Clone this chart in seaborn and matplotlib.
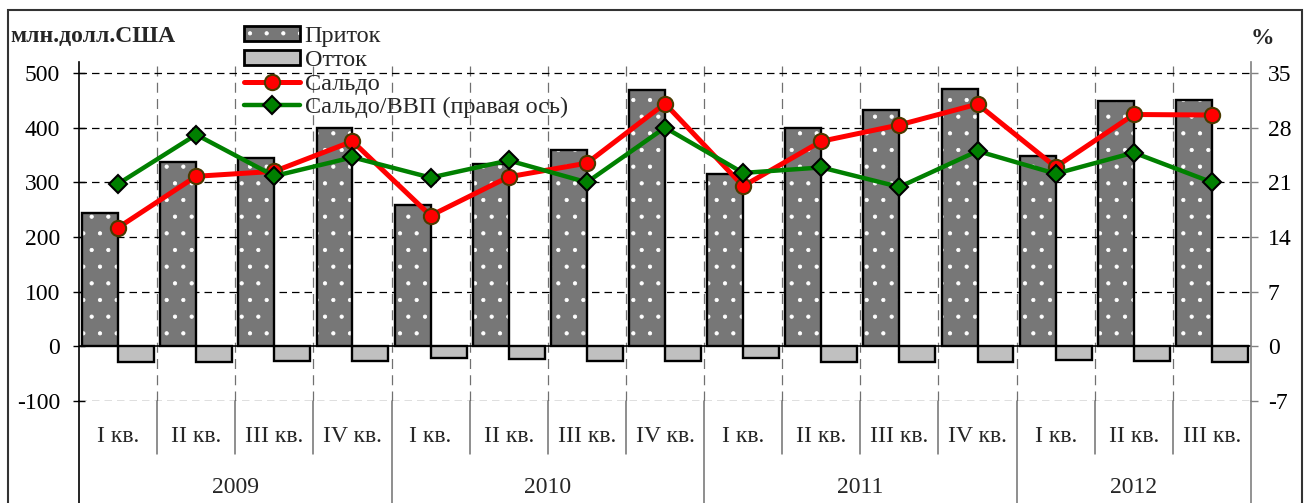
import numpy as np
import pandas as pd
import seaborn as sns
import matplotlib.pyplot as plt
import matplotlib.transforms as mtransforms
from matplotlib.patches import Rectangle
from matplotlib.lines import Line2D
from matplotlib.legend_handler import HandlerTuple

# data
quarters = ['I кв.', 'II кв.', 'III кв.', 'IV кв.'] * 3 + ['I кв.', 'II кв.', 'III кв.']
years = ['2009', '2010', '2011', '2012']
year_of = ['2009'] * 4 + ['2010'] * 4 + ['2011'] * 4 + ['2012'] * 3
inflow = [244, 337, 344, 400, 258, 333, 359, 469, 315, 400, 432, 470, 348, 449, 450]
outflow = [-29, -28, -26, -26, -21, -23, -26, -26, -21, -28, -29, -29, -25, -26, -29]
saldo = [217, 311, 320, 375, 239, 310, 335, 444, 293, 375, 405, 443, 328, 424, 423]
saldo_gdp = [20.8, 27.1, 21.8, 24.2, 21.6, 23.8, 21.0, 28.0, 22.2, 22.9, 20.4, 25.0, 22.1, 24.8, 21.0]
left_ticks = [-100, 0, 100, 200, 300, 400, 500]
right_ticks = [-7, 0, 7, 14, 21, 28, 35]

sns.set_theme(style='white')
plt.rcParams['font.family'] = ['Liberation Serif', 'DejaVu Serif']
plt.rcParams['axes.unicode_minus'] = False
plt.rcParams['hatch.linewidth'] = 0.6

n = len(quarters)
idx = np.arange(n)
bars = pd.DataFrame({'n': np.concatenate([idx, idx]),
                     'v': inflow + outflow,
                     's': ['Приток'] * n + ['Отток'] * n})

W, H = 1305, 503
fig = plt.figure(figsize=(W / 100, H / 100), dpi=100)
ax = fig.add_axes([79 / W, 1 - 401 / H, (1251 - 79) / W, (401 - 62) / H])

sns.barplot(data=bars, x='n', y='v', hue='s', hue_order=['Приток', 'Отток'],
            palette=['#777777', '#c0c0c0'], saturation=1, width=0.92, gap=0,
            edgecolor='black', linewidth=1.7, legend=False, ax=ax, zorder=3)

# dotted texture on inflow bars: white hatch, then a black outline on top
for p in list(ax.patches):
    if p.get_height() > 0:
        p.set_hatch('.')
        p.set_edgecolor('white')
        p.set_linewidth(0)
        ax.add_patch(Rectangle(p.get_xy(), p.get_width(), p.get_height(), fill=False,
                               ec='black', lw=1.7, zorder=3.1))

sns.lineplot(x=idx, y=saldo, ax=ax, color='#ff0000', lw=3.6, marker='o', markersize=11,
             markerfacecolor='#ff0000', markeredgecolor='#4a3a00', markeredgewidth=1.5, zorder=5)

ax2 = ax.twinx()
sns.lineplot(x=idx, y=saldo_gdp, ax=ax2, color='#008000', lw=3.2, marker='D', markersize=9.5,
             markerfacecolor='#008000', markeredgecolor='black', markeredgewidth=1.5, zorder=5)

ax.set_xlim(-0.5, n - 0.5)
ax.set_ylim(-100, 520)
ax2.set_ylim(-7, 36.4)
ax.set_xlabel('')
ax.set_ylabel('')
ax2.set_ylabel('')

ax.set_yticks(left_ticks)
ax2.set_yticks(right_ticks)
ax.set_xticks([])
ax.set_xticks(idx[:-1] + 0.5, minor=True)
ax.tick_params(axis='x', which='both', length=0, labelbottom=False)
ax.tick_params(axis='y', direction='inout', length=9, width=1, labelsize=17, pad=9, colors='black')
ax2.tick_params(axis='y', direction='out', length=5, width=1, labelsize=17, pad=7,
                color='#808080', labelcolor='black')

ax.grid(False)
ax2.grid(False)
for y in left_ticks:
    if y != 0:
        ax.axhline(y, color='black', lw=0.9, ls=(0, (6, 4)), zorder=1)
ax.axhline(0, color='black', lw=1.2, zorder=4)
ax.grid(axis='x', which='minor', color='#707070', lw=0.9, ls=(0, (8, 5)))

for s in ['top', 'bottom', 'right']:
    ax.spines[s].set_visible(False)
for s in ['top', 'bottom', 'left']:
    ax2.spines[s].set_visible(False)
ax.spines['left'].set_color('black')
ax.spines['left'].set_linewidth(1.2)
ax2.spines['right'].set_color('#808080')
ax2.spines['right'].set_linewidth(1.2)

# category labels below the plot
tr = mtransforms.blended_transform_factory(ax.transData, ax.transAxes)
q_y, y_y = -0.106, -0.254
q_end, y_end = -0.155, -0.32
for i in range(n):
    ax.text(i, q_y, quarters[i], transform=tr, ha='center', va='center', fontsize=17)
for yr in years:
    pos = [i for i in range(n) if year_of[i] == yr]
    ax.text(np.mean(pos), y_y, yr, transform=tr, ha='center', va='center', fontsize=17)
for i in range(n - 1):
    end = y_end if year_of[i] != year_of[i + 1] else q_end
    ax.add_line(Line2D([i + 0.5, i + 0.5], [0, end], transform=tr, color='#707070',
                       lw=1.1, clip_on=False))
ax.add_line(Line2D([-0.5, -0.5], [0, y_end], transform=tr, color='black', lw=1.2, clip_on=False))
ax.add_line(Line2D([n - 0.5, n - 0.5], [0, y_end], transform=tr, color='#808080', lw=1.2, clip_on=False))

fig.text(10 / W, 1 - 37 / H, 'млн.долл.США', fontsize=17, fontweight='bold', va='center', ha='left')
fig.text(1262 / W, 1 - 39 / H, '%', fontsize=17, fontweight='bold', va='center', ha='center')

# legend
h_in = (Rectangle((0, 0), 1, 1, fc='#777777', ec='white', lw=0, hatch='.'),
        Rectangle((0, 0), 1, 1, fill=False, ec='black', lw=2))
h_out = Rectangle((0, 0), 1, 1, fc='#c0c0c0', ec='black', lw=2)
h_sal = Line2D([], [], color='#ff0000', lw=3.6, marker='o', markersize=11,
               markerfacecolor='#ff0000', markeredgecolor='#4a3a00', markeredgewidth=1.5)
h_gdp = Line2D([], [], color='#008000', lw=3.2, marker='D', markersize=9.5,
               markerfacecolor='#008000', markeredgecolor='black', markeredgewidth=1.5)
fig.legend([h_in, h_out, h_sal, h_gdp], ['Приток', 'Отток', 'Сальдо', 'Сальдо/ВВП (правая ось)'],
           handler_map={tuple: HandlerTuple(ndivide=1)},
           loc='upper left', bbox_to_anchor=(244 / W, 1 - 26 / H), frameon=False, fontsize=17.5,
           handlelength=2.3, handleheight=0.6, handletextpad=0.2, labelspacing=0.1,
           borderpad=0, borderaxespad=0)

# outer frame
fig.add_artist(Rectangle((8 / W, -0.05), (1302 - 8) / W, 1.05 - 10 / H, transform=fig.transFigure,
                         fill=False, ec='#333333', lw=1.5))

fig.savefig('out.png', dpi=100)
